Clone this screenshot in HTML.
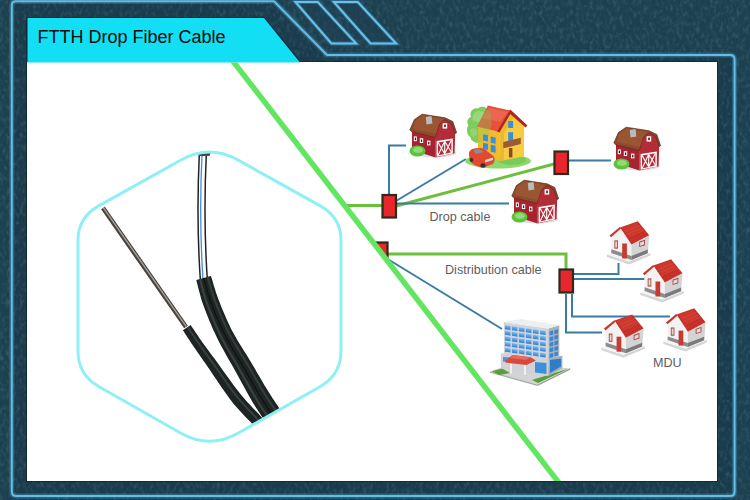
<!DOCTYPE html>
<html><head><meta charset="utf-8">
<style>
html,body{margin:0;padding:0;width:750px;height:500px;overflow:hidden;background:#1c4050;}
svg{position:absolute;left:0;top:0;display:block;}
text{font-family:"Liberation Sans",sans-serif;}
</style></head>
<body>
<svg width="750" height="500" viewBox="0 0 750 500">
<defs>
  <filter id="glow" x="-5%" y="-5%" width="110%" height="110%">
    <feGaussianBlur stdDeviation="1.2" result="b"/>
    <feMerge><feMergeNode in="b"/><feMergeNode in="SourceGraphic"/></feMerge>
  </filter>
  <filter id="noise" x="0" y="0" width="100%" height="100%">
    <feTurbulence type="fractalNoise" baseFrequency="0.3 0.18" numOctaves="2" seed="7" result="t"/>
    <feColorMatrix in="t" type="matrix" values="0 0 0 0 0.42  0 0 0 0 0.62  0 0 0 0 0.68  1.1 0 0 0 -0.52"/>
  </filter>
  <filter id="noise2" x="0" y="0" width="100%" height="100%">
    <feTurbulence type="fractalNoise" baseFrequency="0.2 0.12" numOctaves="2" seed="21" result="t"/>
    <feColorMatrix in="t" type="matrix" values="0 0 0 0 0.04  0 0 0 0 0.12  0 0 0 0 0.16  1.2 0 0 0 -0.55"/>
  </filter>
  <clipPath id="hexclip">
    <path id="hexpath" d="M 181,160 Q 209.5,144 238,160 L 320.3,205.9 Q 341,217.5 341,240 L 341,351 Q 341,374.6 320.3,386.5 L 238.5,433 Q 209.5,449.5 180.5,433 L 98.7,386.5 Q 78,374.6 78,351 L 78,240 Q 78,217.5 98.7,205.9 Z"/>
  </clipPath>

  <g id="barn">
    <ellipse cx="26" cy="41" rx="21" ry="4.5" fill="#000" opacity="0.12"/>
    <polygon points="3,18 26,24.5 26.5,45.5 3,38" fill="#a6232f"/>
    <polygon points="26,24.5 29.4,12.4 36,6.4 43.2,10 46.2,20.2 45.6,41.2 26.5,45.5" fill="#b32c38"/>
    <polygon points="0.8,18 5.4,7.6 13.2,2.2 36,5.8 43.8,9.5 47.6,20.8 46,21.5 42.8,11.5 36,7.6 30,13 26.2,25.5 2.4,19.5" fill="#8c4b2c" stroke="#5e2c16" stroke-width="0.7" stroke-linejoin="round"/>
    <polygon points="6,9 13.5,3.5 34,7 30,12 27,22 4,17" fill="#a05a34" opacity="0.7"/>
    <polygon points="16.8,5 22.5,4 23.4,11.5 17.5,12.4" fill="#b8bcc0"/>
    <g fill="#fff">
      <rect x="4.8" y="24.4" width="3" height="4.8"/>
      <rect x="10.8" y="26.2" width="3.4" height="4.8"/>
      <rect x="18" y="28.6" width="3.4" height="4.8"/>
      <rect x="33.6" y="11.2" width="4.6" height="5.4"/>
    </g>
    <g fill="#3a1a1a">
      <rect x="5.8" y="25.6" width="1.2" height="2.6"/>
      <rect x="11.9" y="27.4" width="1.3" height="2.6"/>
      <rect x="19.1" y="29.8" width="1.3" height="2.6"/>
      <rect x="35.2" y="12.6" width="1.6" height="2.6"/>
    </g>
    <polygon points="27.6,29 43.8,26.5 43.8,41.4 27.6,44.8" fill="#fff"/>
    <polygon points="29,30.4 42.4,28.3 42.4,40.3 29,43.4" fill="#b32c38"/>
    <path d="M29,30.4 L35.7,41.8 M35.7,29.3 L29,43.4 M35.7,29.3 L42.4,40.3 M42.4,28.3 L35.7,41.8 M35.7,29.3 L35.7,41.8" stroke="#fff" stroke-width="1.1" fill="none"/>
    <ellipse cx="8.5" cy="39" rx="8" ry="5.5" fill="#5fc23e"/>
    <ellipse cx="9" cy="38" rx="5" ry="3" fill="#a6e58a" opacity="0.7"/>
  </g>
  <g id="house">
    <polygon points="3,38.5 25,45.5 46.5,37 46.5,39.5 25,48.5 3,41" fill="#d6d6d6"/>
    <polygon points="3,38.5 25,45.5 46.5,37 28,31 " fill="#f4f4f4"/>
    <polygon points="7,20.5 16.2,12.6 27.5,28.6 27.5,44 7,37" fill="#f2f2f2"/>
    <polygon points="27.5,28.6 45.2,19.5 44,34.8 27.5,44" fill="#d4d4d6"/>
    <polygon points="7.3,33.3 27.5,40 27.5,44 7.3,37" fill="#8c8c8c"/>
    <polygon points="27.5,40 43.8,33.6 43.8,37.2 27.5,44" fill="#7a7a7a"/>
    <polygon points="16.1,11.4 33.8,5.2 45.2,19.2 27.5,28.6" fill="#c9332b"/>
    <polygon points="19,12.5 33.5,7.3 40,15 25,21" fill="#de4a3a" opacity="0.5"/>
    <path d="M18.5,14.6 L35.6,7.8 M20.6,17.6 L37.6,10.3 M22.7,20.6 L39.6,12.8 M24.8,23.6 L41.6,15.3 M26.6,26.3 L43.4,17.6" stroke="#a82620" stroke-width="0.7" opacity="0.55"/>
    <polygon points="5.6,19.4 15.8,11 17,12.6 7,21.2" fill="#c9332b"/>
    <rect x="18.2" y="27.5" width="4.7" height="15" fill="#c8392f"/>
    <rect x="10.4" y="24.4" width="3.6" height="8.2" fill="#a83a33"/>
    <rect x="11.2" y="25.4" width="2" height="6.2" fill="#d8d8d8"/>
    <polygon points="35.3,25.8 41,23.8 41,29.2 35.3,31" fill="#a83a33"/>
    <polygon points="36.1,26.5 40.2,25 40.2,28.6 36.1,30" fill="#dcdcdc"/>
  </g>

  <g id="yhouse">
    <ellipse cx="36" cy="61" rx="33" ry="7.5" fill="#8fd86a"/>
    <ellipse cx="50" cy="60" rx="14" ry="5" fill="#7cc95a"/>
    <!-- tree -->
    <path id="treeshape" d="M 9,17 C 7,11 12,7 16,8.5 C 19,5.5 24,6.5 25.5,10 C 29,11 30,16 28.5,19 C 31,23 29.5,28 27,30 C 28.5,35 25.5,41 20.5,41.5 C 16,44.5 9,42 8.5,37 C 4.5,35 4,28 6.5,25.5 C 4.5,22 5.5,18 9,17 Z" fill="#7fcc5e"/>
    <path d="M 11,16 C 12,12 16,10 19,11.5 C 23,10.5 26,14 25,18 C 23,22 17,23 13,21 C 10,20 10,18 11,16 Z" fill="#b4e49a" opacity="0.75"/>
    <path d="M 8,30 C 10,27 14,28 15,31 C 16,35 12,38 9,36 Z" fill="#a8de8c" opacity="0.7"/>
    <rect x="20.6" y="38" width="1.3" height="10" fill="#7a5a3a"/>
    <!-- side wall -->
    <polygon points="16,27 37.8,31.5 37.8,61 16,54" fill="#f0bc2c"/>
    <!-- front gable wall -->
    <polygon points="37.8,31.5 48.3,13 62,26 62,56.5 37.8,61" fill="#f6cc40"/>
    <polygon points="37.8,31.5 48.3,13 52,17 42,33 42,60 37.8,61" fill="#e8a828" opacity="0.6"/>
    <!-- roof -->
    <polygon points="25.9,5.6 48.3,10.5 35.7,31.5 15,26.5" fill="#e8503a"/>
    <polygon points="27,8 46,12 38,22 20,18" fill="#f07a62" opacity="0.5"/>
    <polygon points="48.3,9.5 65.5,25.5 63.5,27.5 48.3,14 37.5,32.5 35,31.5" fill="#b32420"/>
    <use href="#treeshape" opacity="0.35"/>
    <!-- windows side -->
    <g fill="#3a8ee0">
      <polygon points="21,34.3 26,35.3 26,41.6 21,40.6"/>
      <polygon points="28.7,36.4 33.6,37.4 33.6,43.7 28.7,42.7"/>
      <polygon points="21,42.7 26,43.7 26,50 21,49"/>
      <polygon points="28.7,44.8 33.6,45.8 33.6,52.8 28.7,51.8"/>
      <rect x="46.2" y="21" width="4.9" height="7"/>
      <rect x="46.2" y="32.2" width="4.9" height="9"/>
    </g>
    <!-- balcony -->
    <polygon points="41.3,42 58.8,37.8 58.8,44.1 41.3,48.3" fill="#9a5a34"/>
    <rect x="46.9" y="48" width="3.5" height="9.4" fill="#8a4a2a"/>
    <!-- car -->
    <path d="M 7,54 C 7,50 10,49 12,48.5 L 16,48 C 19,47.5 23,48.5 25,51 L 30,55 C 32,56 33,58 32.5,61 L 31,64 L 23,67 L 19,67.5 C 13,66 9,63 7.5,60 Z" fill="#e2492f"/>
    <polygon points="11,50 17,49 22,52 14,54" fill="#8a8f96"/>
    <polygon points="23,60 31,57.5 31,60 23,62.5" fill="#d0d4d8"/>
    <ellipse cx="21" cy="65.5" rx="2.6" ry="2.2" fill="#333"/>
    <ellipse cx="9.5" cy="60" rx="1.8" ry="2" fill="#333"/>
  </g>
  <g id="bldg">
    <!-- ground -->
    <polygon points="3.9,59.3 23.4,53 84.2,56.2 51.5,72.5" fill="#d2d4d6"/>
    <polygon points="3.9,59.3 51.5,72.5 51.5,74 3.9,60.8" fill="#a8aaac"/>
    <polygon points="51.5,72.5 84.2,56.2 84.2,57.7 51.5,74" fill="#9a9c9e"/>
    <polygon points="6,59.2 16,56.5 24,61 13,63" fill="#5aa03a"/>
    <polygon points="46,68 78,58 82,57 52,71" fill="#5aa03a"/>
    <!-- podium -->
    <polygon points="14.8,41.3 62.4,45.2 62.4,64 14.8,56.2" fill="#cfd3d8"/>
    <polygon points="62.4,45.2 76.4,43.7 76.4,56.2 62.4,64" fill="#a9aeb6"/>
    <polygon points="49,50 60.5,51 60.5,62 49,60.5" fill="#3d8fd8"/>
    <polygon points="64,48 75,46.5 75,54.5 64,61" fill="#2f7cc8"/>
    <polygon points="17,45 24,45.5 24,50 17,49.5" fill="#4a98dc"/>
    <!-- tower front -->
    <polygon points="17.9,10.1 62.4,16.4 62.4,46 17.9,42.1" fill="#d2d6dc"/>
    <!-- tower side -->
    <polygon points="62.4,16.4 73.3,13.3 73.3,43.7 62.4,46" fill="#aab0b8"/>
    <!-- roof -->
    <polygon points="17.9,10.1 35.1,7 73.3,13.3 62.4,16.4" fill="#eceef0"/>
    <!-- windows front -->
    <g fill="url(#wgrad)" transform="matrix(1,0.1416,0,1,17.9,10.1)">
      <g id="wrow">
        <rect x="1" y="3" width="5.6" height="4"/>
        <rect x="8" y="3" width="5.6" height="4"/>
        <rect x="15" y="3" width="5.6" height="4"/>
        <rect x="22" y="3" width="5.6" height="4"/>
        <rect x="29" y="3" width="5.6" height="4"/>
        <rect x="36.2" y="3" width="5.6" height="4"/>
      </g>
      <use href="#wrow" y="5.6"/>
      <use href="#wrow" y="11.2"/>
      <use href="#wrow" y="16.8"/>
      <use href="#wrow" y="22.4"/>
    </g>
    <g fill="#3a86d2" transform="matrix(1,-0.284,0,1,62.4,16.4)">
      <g id="wcol">
        <rect x="1.2" y="3.5" width="3.6" height="4"/>
        <rect x="6" y="3.5" width="3.6" height="4"/>
      </g>
      <use href="#wcol" y="5.6"/>
      <use href="#wcol" y="11.2"/>
      <use href="#wcol" y="16.8"/>
      <use href="#wcol" y="22.4"/>
    </g>
    <!-- canopy -->
    <rect x="24" y="49.5" width="2" height="12" fill="#f0f0f0"/>
    <rect x="38" y="51" width="2" height="12" fill="#f0f0f0"/>
    <polygon points="18.7,49.1 26.5,42.9 44.5,45.2 49.9,48.4 40.6,53 20.3,50.7" fill="#d9483c"/>
    <polygon points="26.5,42.9 44.5,45.2 40,48 24,46" fill="#e86a5a"/>
  </g>
  <linearGradient id="wgrad" x1="0" y1="0" x2="0" y2="1">
    <stop offset="0" stop-color="#7cbcf0"/><stop offset="1" stop-color="#2f7fd0"/>
  </linearGradient>
  <clipPath id="panelclip"><rect x="27" y="62.5" width="690" height="418.5"/></clipPath>
  <clipPath id="diagclip">
    <polygon points="236,62 717,62 717,481 559,481"/>
  </clipPath>
</defs>

<!-- background -->
<rect x="0" y="0" width="750" height="500" fill="#1c4050"/>
<!-- inner darker band -->
<path d="M 14,4 L 273,4 L 325.5,57 L 732,57 L 732,493.5 L 14,493.5 Z" fill="#173848" opacity="0.6"/>
<rect x="0" y="0" width="750" height="500" filter="url(#noise2)" opacity="0.5"/>
<rect x="0" y="0" width="750" height="500" filter="url(#noise)" opacity="0.35"/>

<!-- frame line -->
<path d="M 274,1.2 L 16,1.2 Q 11.8,1.2 11.8,5.5 L 11.8,491.5 Q 11.8,496 16.3,496 L 730,496 Q 734.6,496 734.6,491.5 L 734.6,59.6 Q 734.6,55 730,55 L 327,55 Z" fill="none" stroke="#3a8ab4" stroke-width="5" opacity="0.45"/>
<path d="M 274,1.2 L 16,1.2 Q 11.8,1.2 11.8,5.5 L 11.8,491.5 Q 11.8,496 16.3,496 L 730,496 Q 734.6,496 734.6,491.5 L 734.6,59.6 Q 734.6,55 730,55 L 327,55 Z" fill="none" stroke="#66bce2" stroke-width="2"/>

<!-- parallelograms -->
<polygon points="295.4,2 317.8,2 356.2,43.5 331.4,43.5" fill="#1f4053" stroke="#2d7fad" stroke-width="4" opacity="0.6"/>
<polygon points="295.4,2 317.8,2 356.2,43.5 331.4,43.5" fill="none" stroke="#6cc0e8" stroke-width="2"/>
<polygon points="333.8,2 357.8,2 396.2,43.5 370.6,43.5" fill="#1f4053" stroke="#2d7fad" stroke-width="4" opacity="0.6"/>
<polygon points="333.8,2 357.8,2 396.2,43.5 370.6,43.5" fill="none" stroke="#6cc0e8" stroke-width="2"/>

<!-- panel shadow -->
<path d="M 26,17 L 264.5,17 L 300.5,61 L 718,61 L 718,482 L 26,482 Z" fill="#0f2636" opacity="0.8"/>
<!-- white panel -->
<rect x="27" y="62" width="690" height="419" fill="#ffffff"/>

<!-- cyan header -->
<polygon points="27.5,18 264,18 300,62.5 27.5,62.5" fill="#12dff4"/>
<text x="37.5" y="43" font-size="18" fill="#0a0a0a">FTTH Drop Fiber Cable</text>

<!-- hexagon content (cable photo) -->
<g clip-path="url(#hexclip)">
  <!-- steel wire -->
  <line x1="103" y1="208" x2="186" y2="327" stroke="#46423e" stroke-width="4.6"/>
  <line x1="103.3" y1="207.6" x2="186.3" y2="326.6" stroke="#a8a29a" stroke-width="1.4"/>
  <!-- fiber -->
  <path d="M 203,150 C 201,190 201,240 204,282" fill="none" stroke="#222" stroke-width="8.5"/>
  <path d="M 203,150 C 201,190 201,240 204,282" fill="none" stroke="#fff" stroke-width="5.5"/>
  <path d="M 202.2,150 C 200.2,190 200.2,240 203.2,282" fill="none" stroke="#3d8be0" stroke-width="1.3"/>
  <polygon points="197.5,152 211,152 209.5,156 199,156" fill="#4a4a4a"/>
  <!-- left (messenger) black cable -->
  <polygon points="182.9,330.3 184.1,332.1 185.3,334.0 186.5,335.8 187.7,337.7 189.0,339.5 190.2,341.4 191.4,343.2 192.6,345.0 193.9,346.9 195.2,348.7 196.4,350.5 197.5,352.2 198.6,353.8 199.7,355.3 200.8,356.9 202.0,358.6 203.2,360.4 204.6,362.3 206.1,364.5 207.8,367.0 209.8,369.8 211.9,373.0 214.2,376.4 216.7,380.1 219.3,383.9 221.9,387.7 224.5,391.4 227.0,395.0 229.5,398.5 231.8,401.6 234.1,404.4 236.4,407.1 238.7,409.6 240.9,412.0 243.0,414.2 245.0,416.4 247.0,418.4 248.8,420.3 250.5,422.1 252.1,423.8 253.6,425.5 254.9,427.0 256.1,428.5 257.2,429.8 258.3,431.1 259.3,432.4 260.3,433.7 261.3,434.9 262.4,436.3 263.6,437.7 272.4,430.3 271.3,429.0 270.3,427.7 269.3,426.4 268.2,425.2 267.2,423.9 266.1,422.5 264.9,421.1 263.6,419.6 262.3,418.0 260.7,416.2 259.0,414.3 257.2,412.3 255.3,410.4 253.3,408.4 251.3,406.3 249.2,404.1 247.2,401.9 245.1,399.5 242.9,397.0 240.8,394.4 238.5,391.6 236.1,388.4 233.5,384.9 230.8,381.3 228.1,377.6 225.5,374.0 222.9,370.4 220.5,367.0 218.2,363.8 216.2,361.0 214.4,358.6 212.8,356.4 211.3,354.5 210.0,352.7 208.8,351.1 207.7,349.6 206.5,348.1 205.4,346.6 204.3,345.0 203.0,343.3 201.8,341.5 200.6,339.7 199.3,337.9 198.1,336.1 196.9,334.2 195.6,332.4 194.4,330.6 193.2,328.7 191.9,326.9 190.7,325.1" fill="#1e2423"/>
  <path d="M 187.7,327.1 189.0,328.9 190.2,330.7 191.4,332.6 192.6,334.4 193.9,336.2 195.1,338.1 196.3,339.9 197.6,341.7 198.8,343.5 200.0,345.3 201.3,347.1 202.4,348.7 203.5,350.2 204.6,351.8 205.8,353.3 207.0,355.0 208.2,356.7 209.7,358.7 211.2,360.8 213.0,363.3 215.0,366.1 217.2,369.3 219.6,372.7 222.2,376.3 224.8,380.0 227.4,383.7 230.0,387.4 232.6,390.9 235.1,394.2 237.4,397.1 239.6,399.8 241.8,402.4 243.9,404.8 246.1,407.1 248.1,409.3 250.2,411.4 252.1,413.4 254.0,415.4 255.8,417.2 257.4,419.1 258.9,420.8 260.3,422.4 261.6,423.9 262.7,425.3 263.8,426.6 264.8,427.9 265.9,429.2 266.9,430.5 267.9,431.8 269.1,433.1" fill="none" stroke="#3e4846" stroke-width="2" opacity="0.8"/>
  <!-- right black cable -->
  <polygon points="196.3,280.1 196.9,282.5 197.5,284.7 198.0,287.0 198.6,289.3 199.2,291.6 199.9,294.0 200.6,296.5 201.3,299.2 202.2,301.9 203.2,304.8 204.3,307.8 205.4,310.8 206.7,314.0 208.0,317.3 209.3,320.7 210.8,324.1 212.2,327.5 213.8,330.9 215.4,334.3 217.0,337.7 218.6,341.1 220.4,344.5 222.2,347.8 224.0,351.1 225.9,354.4 227.7,357.7 229.6,360.9 231.4,364.1 233.2,367.3 235.0,370.5 236.8,373.7 238.6,377.0 240.5,380.4 242.3,383.8 244.2,387.2 246.0,390.5 247.8,393.8 249.6,397.0 251.4,400.1 253.1,403.0 254.8,405.7 256.4,408.3 258.0,410.8 259.6,413.1 261.1,415.4 262.6,417.6 264.0,419.6 265.4,421.7 266.8,423.6 268.2,425.6 269.5,427.5 270.8,429.3 272.1,431.0 273.3,432.6 274.5,434.2 275.7,435.7 276.9,437.2 278.0,438.7 279.2,440.2 280.3,441.8 295.7,430.2 294.5,428.6 293.3,427.1 292.1,425.5 291.0,424.0 289.8,422.6 288.7,421.0 287.5,419.5 286.3,417.9 285.1,416.2 283.8,414.4 282.5,412.6 281.1,410.6 279.7,408.7 278.3,406.7 276.9,404.6 275.4,402.5 274.0,400.3 272.4,398.0 270.9,395.6 269.3,393.0 267.6,390.3 265.9,387.5 264.0,384.5 262.2,381.3 260.3,378.1 258.3,374.8 256.4,371.4 254.5,368.1 252.5,364.8 250.6,361.5 248.6,358.3 246.7,355.1 244.7,351.9 242.7,348.7 240.7,345.6 238.8,342.5 237.0,339.4 235.2,336.3 233.5,333.3 231.8,330.3 230.3,327.2 228.8,324.0 227.3,320.8 225.9,317.6 224.5,314.3 223.1,311.1 221.8,308.0 220.6,304.9 219.5,302.0 218.4,299.2 217.4,296.6 216.6,294.2 215.8,291.9 215.1,289.6 214.4,287.4 213.7,285.2 213.1,282.9 212.4,280.6 211.7,278.2 210.9,275.9" fill="#1e2423"/>
  <path d="M 199.9,279.1 200.6,281.4 201.2,283.7 201.8,286.0 202.4,288.2 203.0,290.6 203.7,292.9 204.4,295.4 205.1,297.9 206.0,300.6 207.0,303.4 208.1,306.3 209.2,309.4 210.5,312.5 211.8,315.8 213.1,319.1 214.5,322.4 216.0,325.8 217.5,329.2 219.1,332.6 220.7,335.9 222.3,339.2 224.1,342.4 225.9,345.7 227.7,349.0 229.6,352.2 231.5,355.4 233.4,358.7 235.2,361.9 237.1,365.1 238.9,368.2 240.7,371.5 242.6,374.8 244.4,378.2 246.3,381.5 248.2,384.9 250.1,388.2 251.9,391.5 253.7,394.6 255.5,397.6 257.2,400.5 258.8,403.2 260.4,405.7 262.0,408.1 263.6,410.5 265.1,412.7 266.5,414.8 268.0,416.9 269.4,418.9 270.7,420.9 272.1,422.8 273.4,424.6 274.7,426.4 276.0,428.1 277.2,429.7 278.4,431.3 279.5,432.8 280.7,434.3 281.8,435.8 283.0,437.3 284.2,438.9" fill="none" stroke="#3e4846" stroke-width="2.2" opacity="0.8"/>
  <path d="M 207.6,276.8 208.3,279.2 209.0,281.6 209.6,283.8 210.3,286.1 210.9,288.4 211.6,290.6 212.3,293.0 213.1,295.3 213.9,297.8 214.9,300.5 216.0,303.3 217.1,306.3 218.4,309.4 219.6,312.6 221.0,315.8 222.4,319.1 223.8,322.3 225.3,325.6 226.8,328.8 228.4,332.0 230.0,335.1 231.8,338.2 233.6,341.3 235.4,344.5 237.3,347.6 239.3,350.8 241.2,354.0 243.2,357.2 245.1,360.4 247.0,363.6 248.9,366.8 250.8,370.1 252.7,373.5 254.7,376.8 256.6,380.2 258.5,383.4 260.3,386.6 262.1,389.7 263.9,392.6 265.6,395.3 267.2,397.9 268.8,400.4 270.3,402.7 271.8,404.9 273.3,407.1 274.7,409.2 276.1,411.2 277.5,413.2 278.9,415.1 280.2,417.0 281.5,418.8 282.8,420.5 284.0,422.1 285.1,423.7 286.3,425.2 287.4,426.7 288.6,428.2 289.8,429.7 290.9,431.3 292.1,432.9" fill="none" stroke="#3e4846" stroke-width="2.2" opacity="0.7"/>
  <path d="M 203.6,278.0 204.3,280.4 204.9,282.7 205.6,284.9 206.2,287.2 206.8,289.5 207.5,291.8 208.2,294.2 209.0,296.7 209.8,299.3 210.8,302.0 211.9,304.9 213.0,307.9 214.3,311.0 215.5,314.2 216.9,317.5 218.3,320.8 219.8,324.1 221.3,327.5 222.8,330.8 224.4,334.0 226.0,337.2 227.8,340.4 229.6,343.6 231.4,346.8 233.3,350.0 235.2,353.2 237.1,356.4 239.0,359.6 240.9,362.8 242.8,366.0 244.7,369.2 246.5,372.6 248.4,375.9 250.3,379.3 252.2,382.6 254.1,385.9 255.9,389.1 257.8,392.2 259.5,395.2 261.2,398.0 262.8,400.6 264.4,403.1 266.0,405.5 267.5,407.8 269.0,410.0 270.5,412.1 271.9,414.2 273.3,416.1 274.6,418.1 276.0,420.0 277.3,421.8 278.6,423.6 279.8,425.2 281.0,426.8 282.2,428.4 283.3,429.9 284.5,431.4 285.6,432.9 286.8,434.4 288.0,436.0" fill="none" stroke="#0c0f0f" stroke-width="1.2" opacity="0.9"/>
</g>
<!-- hexagon outline -->
<use href="#hexpath" fill="none" stroke="#8ef0f7" stroke-width="3"/>

<!-- right network diagram (clipped by diagonal) -->
<g clip-path="url(#diagclip)">
  <!-- green lines -->
  <g stroke="#6cbf3a" stroke-width="3" fill="none">
    <line x1="330" y1="205.5" x2="382" y2="205.5"/>
    <line x1="396" y1="206" x2="554" y2="164"/>
    <polyline points="380,254 566,254 566,269"/>
  </g>
  <!-- blue lines -->
  <g stroke="#3b7ca3" stroke-width="2" fill="none">
    <polyline points="389,194 389,145.5 406,145.5"/>
    <line x1="396" y1="201" x2="466" y2="159"/>
    <line x1="396" y1="203.5" x2="509" y2="203.5"/>
    <line x1="568" y1="160.5" x2="611" y2="160.5"/>
    <line x1="386" y1="258" x2="502" y2="329"/>
    <polyline points="574,274 618.5,274 618.5,263"/>
    <line x1="574" y1="279" x2="648" y2="279"/>
    <polyline points="572,294 572,316.5 670,316.5"/>
    <polyline points="566,294 566,332.5 602,332.5"/>
  </g>
  <!-- connectors -->
  <g fill="#e8262c" stroke="#2b2a1c" stroke-width="2.2">
    <rect x="382.5" y="195" width="13.5" height="22.5"/>
    <rect x="373.5" y="242.5" width="14" height="22.5"/>
    <rect x="554.5" y="151.5" width="13.5" height="22.5"/>
    <rect x="559.5" y="269.5" width="13.5" height="23"/>
  </g>
  <!-- barns -->
  <use href="#barn" transform="translate(409,112)"/>
  <use href="#barn" transform="translate(613,125)"/>
  <use href="#barn" transform="translate(511,178)"/>
  <!-- houses -->
  <use href="#house" transform="translate(604,216)"/>
  <use href="#house" transform="translate(637.3,254)"/>
  <use href="#house" transform="translate(598.4,309.2)"/>
  <use href="#house" transform="translate(660.4,303.1)"/>
  <use href="#yhouse" transform="translate(462,100)"/>
  <use href="#bldg" transform="translate(486,312)"/>
  <!-- labels -->
  <g font-size="12.6" fill="#5e5e5e">
    <text x="429.5" y="221">Drop cable</text>
    <text x="445" y="273.7">Distribution cable</text>
    <text x="653" y="366.5">MDU</text>
  </g>
</g>

<!-- big green diagonal -->
<g clip-path="url(#panelclip)"><line x1="229.8" y1="57" x2="561.4" y2="486" stroke="#62e660" stroke-width="5.5"/></g>

</svg>
</body></html>
